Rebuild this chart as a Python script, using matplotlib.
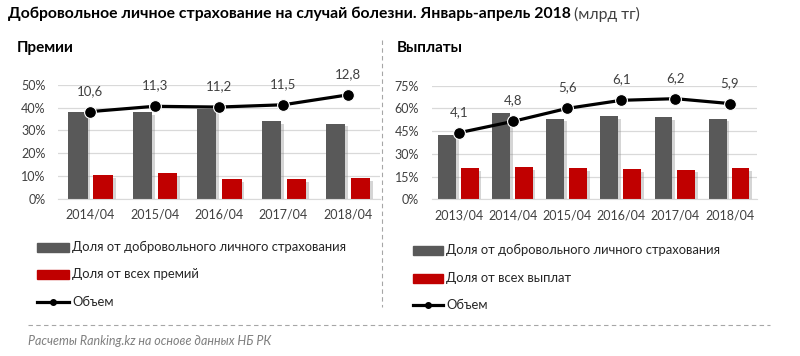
import matplotlib
matplotlib.use("Agg")
import matplotlib.pyplot as plt
import matplotlib.patheffects as pe
from matplotlib.lines import Line2D
from matplotlib.patches import Rectangle
import numpy as np

plt.rcParams['font.family'] = ['Lato', 'DejaVu Sans']

# Премии
prem_years = ['2014/04', '2015/04', '2016/04', '2017/04', '2018/04']
prem_share_dms = [0.38, 0.38, 0.395, 0.341, 0.33]
prem_share_all = [0.105, 0.111, 0.085, 0.085, 0.09]
prem_volume = [10.6, 11.3, 11.2, 11.5, 12.8]

# Выплаты
pay_years = ['2013/04', '2014/04', '2015/04', '2016/04', '2017/04', '2018/04']
pay_share_dms = [0.423, 0.568, 0.533, 0.55, 0.542, 0.533]
pay_share_all = [0.205, 0.213, 0.205, 0.198, 0.196, 0.206]
pay_volume = [4.1, 4.8, 5.6, 6.1, 6.2, 5.9]

GRAY = '#595959'
RED = '#C00000'
TXT = '#404040'
GRID = '#D9D9D9'

W, H = 800, 356
fig = plt.figure(figsize=(8, 3.56), dpi=100)


def fx(px):
    return px / W


def fy(px):
    return 1 - px / H


shadow = [pe.SimplePatchShadow(offset=(2, -2), shadow_rgbFace='#888888', alpha=0.35), pe.Normal()]


def panel(rect, years, dms, alls, vol, ymax, step, vlim, off, bw):
    ax = fig.add_axes(rect)
    x = np.arange(len(years))
    ax.bar(x + off[0], dms, bw, color=GRAY, path_effects=shadow, zorder=2)
    ax.bar(x + off[1], alls, bw, color=RED, path_effects=shadow, zorder=2)
    ax.set_xlim(-0.5, len(years) - 0.5)
    ax.set_ylim(0, ymax)
    ax.set_yticks(np.arange(0, ymax + 1e-9, step))
    ax.yaxis.set_major_formatter(matplotlib.ticker.FuncFormatter(lambda v, p: '{:.0f}%'.format(v * 100)))
    ax.set_xticks(x)
    ax.set_xticklabels(years)
    ax.tick_params(length=0, labelsize=9, colors=TXT)
    ax.tick_params(axis='y', pad=9)
    ax.tick_params(axis='x', pad=7)
    ax.grid(axis='y', color=GRID, lw=0.9, zorder=0)
    ax.set_axisbelow(True)
    for s in ['top', 'right', 'left']:
        ax.spines[s].set_visible(False)
    ax.spines['bottom'].set_color(GRID)

    # объем на вспомогательной оси
    ax2 = ax.twinx()
    ax2.plot(x, vol, color='black', lw=2.3, marker='o', ms=8.5,
             mfc='black', mec='white', mew=0.8, solid_capstyle='round')
    ax2.set_ylim(*vlim)
    ax2.axis('off')
    for xi, v in zip(x, vol):
        ax2.annotate('{:.1f}'.format(v).replace('.', ','), (xi, v), xytext=(0, 15),
                     textcoords='offset points', ha='center', va='center',
                     fontsize=9.5, color=TXT)
    return ax


panel([fx(58), fy(198.7), fx(322), (198.7 - 85) / H], prem_years, prem_share_dms,
      prem_share_all, prem_volume, 0.5, 0.1, (-0.85, 14.1), (-0.19, 0.2), 0.3)
panel([fx(431.7), fy(199.3), fx(325), (199.3 - 85.7) / H], pay_years, pay_share_dms,
      pay_share_all, pay_volume, 0.75, 0.15, (0, 7), (-0.22, 0.2), 0.33)

# заголовок
t = fig.text(fx(8), fy(14), 'Добровольное личное страхование на случай болезни. Январь-апрель 2018',
             fontsize=11.3, fontweight='bold', color='black', va='center')
fig.canvas.draw()
bb = t.get_window_extent()
fig.text(bb.x1 / W + 0.004, fy(14), '(млрд тг)', fontsize=11.3, color=TXT, va='center')

fig.text(fx(17), fy(48), 'Премии', fontsize=11, fontweight='bold', va='center')
fig.text(fx(397), fy(48), 'Выплаты', fontsize=11, fontweight='bold', va='center')

# разделители
fig.add_artist(Line2D([fx(382), fx(382)], [fy(40), fy(307)], color='#A6A6A6',
                      lw=0.8, ls=(0, (4, 3))))
fig.add_artist(Line2D([fx(28), fx(770)], [fy(325), fy(325)], color='#A6A6A6',
                      lw=0.8, ls=(0, (4, 3))))


# легенды
def legend(x0, x1, ys, labels):
    kinds = ['gray', 'red', 'line']
    for kind, y, lab in zip(kinds, ys, labels):
        if kind == 'line':
            fig.add_artist(Line2D([fx(x0), fx(x1)], [fy(y), fy(y)], color='black', lw=2.3))
            fig.add_artist(Line2D([fx((x0 + x1) / 2)], [fy(y)], color='black', marker='o', ms=4))
        else:
            fig.add_artist(Rectangle((fx(x0), fy(y + 4.5)), fx(x1 - x0), 9 / H,
                                     color=GRAY if kind == 'gray' else RED, transform=fig.transFigure))
        fig.text(fx(x1 + 3), fy(y), lab, fontsize=9.4, color='#262626', va='center')


legend(37, 69, [247, 274, 302], ['Доля от добровольного личного страхования',
                                 'Доля от всех премий', 'Объем'])
legend(413, 443, [250, 278, 305], ['Доля от добровольного личного страхования',
                                   'Доля от всех выплат', 'Объем'])

fig.text(fx(28), fy(341), 'Расчеты Ranking.kz на основе данных НБ РК', fontsize=9,
         style='italic', color='#7F7F7F', va='center')

fig.savefig('out.png', dpi=100)
